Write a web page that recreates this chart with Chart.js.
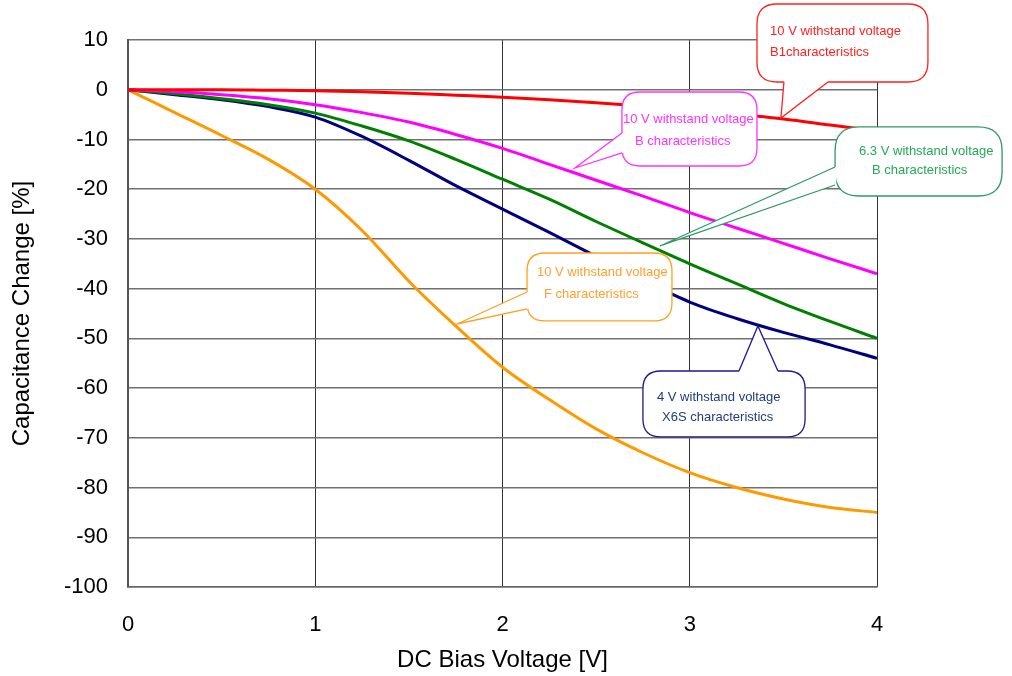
<!DOCTYPE html>
<html>
<head>
<meta charset="utf-8">
<script src="https://cdn.jsdelivr.net/npm/chart.js@4/dist/chart.umd.min.js"></script>
<style>
  html, body { margin: 0; padding: 0; background: #fff; }
  #wrap { width: 1012px; height: 676px; }
</style>
</head>
<body>
<div id="wrap"><canvas id="c" width="1012" height="676"></canvas></div>
<script>
// ---- data (DC bias voltage [V] vs capacitance change [%]) ----
const voltages = [0, 0.25, 0.5, 0.75, 1, 1.25, 1.5, 1.75, 2, 2.25, 2.5, 2.75, 3, 3.25, 3.5, 3.75, 4];
const b1_10V   = [0, 0, 0, -0.1, -0.2, -0.4, -0.7, -1.1, -1.5, -2.0, -2.6, -3.3, -4.0, -4.9, -5.9, -7.1, -8.3];
const b_10V    = [0, -0.4, -1.0, -1.8, -3.0, -4.6, -6.5, -9.0, -11.8, -15.0, -18.2, -21.4, -24.7, -27.8, -30.9, -34.0, -37.0];
const b_6V3    = [0, -0.8, -1.8, -3.0, -4.7, -7.3, -10.3, -14.0, -18.0, -22.0, -26.5, -30.8, -35.0, -39.0, -43.0, -46.6, -50.0];
const x6s_4V   = [0, -1.0, -2.0, -3.4, -5.5, -9.4, -14.2, -19.3, -24.0, -28.7, -33.5, -38.3, -42.7, -46.0, -48.8, -51.3, -54.0];
const f_10V    = [0, -4.6, -9.2, -14.0, -20.0, -28.3, -38.5, -47.5, -55.8, -62.3, -68.2, -73.0, -77.0, -80.0, -82.3, -84.0, -85.0];
const xTicks   = [0, 1, 2, 3, 4];
const yTicks   = [10, 0, -10, -20, -30, -40, -50, -60, -70, -80, -90, -100];

// ---- callout annotations (in data units) ----
const callouts = [
  { color: '#ff2020', text: '#ff2020', r: 20,
    box: [3.359, 4.272, 17.24, 1.55],
    tail: [[3.503, 1.55], [3.487, -5.68], [3.738, 1.55]],
    lines: [['10 V withstand voltage', 3.429, 11.81], ['B1characteristics', 3.429, 7.59]] },
  { color: '#ff33ff', text: '#ff33ff', r: 18,
    box: [2.638, 3.359, -0.456, -15.34],
    tail: [[2.638, -8.70], [2.387, -15.74], [2.638, -12.72]],
    lines: [['10 V withstand voltage', 2.643, -5.89], ['B characteristics', 2.708, -10.31]] },
  { color: '#2e9a62', text: '#22aa55', r: 24,
    box: [3.776, 4.668, -7.49, -21.37],
    tail: [[3.776, -15.54], [2.841, -31.42], [3.776, -19.16]],
    lines: [['6.3 V withstand voltage', 3.904, -12.32], ['B characteristics', 3.973, -16.14]] },
  { color: '#ffa020', text: '#ffa030', r: 18,
    box: [2.131, 2.905, -32.83, -46.50],
    tail: [[2.131, -40.67], [1.757, -47.11], [2.131, -44.09]],
    lines: [['10 V withstand voltage', 2.184, -36.65], ['F characteristics', 2.222, -41.08]] },
  { color: '#1a1a8c', text: '#1f3d7a', r: 18,
    box: [2.750, 3.616, -56.56, -69.83],
    tail: [[3.263, -56.56], [3.364, -47.51], [3.471, -56.56]],
    lines: [['4 V withstand voltage', 2.825, -61.79], ['X6S characteristics', 2.852, -65.81]] }
];

const toXY = (xs, ys) => xs.map((x, i) => ({ x: x, y: ys[i] }));

const calloutPlugin = {
  id: 'callouts',
  afterDatasetsDraw(chart) {
    const ctx = chart.ctx;
    const xs = chart.scales.x, ys = chart.scales.y;
    callouts.forEach(c => {
      const x1 = xs.getPixelForValue(c.box[0]), x2 = xs.getPixelForValue(c.box[1]);
      const y1 = ys.getPixelForValue(c.box[2]), y2 = ys.getPixelForValue(c.box[3]);
      const r = c.r;
      ctx.save();
      ctx.beginPath();
      ctx.moveTo(x1 + r, y1);
      ctx.lineTo(x2 - r, y1);
      ctx.quadraticCurveTo(x2, y1, x2, y1 + r);
      ctx.lineTo(x2, y2 - r);
      ctx.quadraticCurveTo(x2, y2, x2 - r, y2);
      ctx.lineTo(x1 + r, y2);
      ctx.quadraticCurveTo(x1, y2, x1, y2 - r);
      ctx.lineTo(x1, y1 + r);
      ctx.quadraticCurveTo(x1, y1, x1 + r, y1);
      ctx.closePath();
      ctx.fillStyle = '#ffffff';
      ctx.fill();
      ctx.strokeStyle = c.color;
      ctx.lineWidth = 1.3;
      ctx.stroke();
      // tail
      const p = c.tail.map(t => [xs.getPixelForValue(t[0]), ys.getPixelForValue(t[1])]);
      ctx.beginPath();
      ctx.moveTo(p[0][0], p[0][1]);
      ctx.lineTo(p[1][0], p[1][1]);
      ctx.lineTo(p[2][0], p[2][1]);
      ctx.closePath();
      ctx.fill();
      ctx.beginPath();
      ctx.moveTo(p[0][0], p[0][1]);
      ctx.lineTo(p[2][0], p[2][1]);
      ctx.strokeStyle = '#ffffff';
      ctx.lineWidth = 2.5;
      ctx.stroke();
      ctx.beginPath();
      ctx.moveTo(p[0][0], p[0][1]);
      ctx.lineTo(p[1][0], p[1][1]);
      ctx.lineTo(p[2][0], p[2][1]);
      ctx.strokeStyle = c.color;
      ctx.lineWidth = 1.3;
      ctx.stroke();
      // text
      ctx.fillStyle = c.text;
      ctx.font = '13px "Liberation Sans", Arial, sans-serif';
      ctx.textAlign = 'left';
      ctx.textBaseline = 'middle';
      c.lines.forEach(l => {
        ctx.fillText(l[0], xs.getPixelForValue(l[1]), ys.getPixelForValue(l[2]));
      });
      ctx.restore();
    });
  }
};

const tickFont = { family: '"Liberation Sans", Arial, sans-serif', size: 22 };
const titleFont = { family: '"Liberation Sans", Arial, sans-serif', size: 24 };

new Chart(document.getElementById('c'), {
  type: 'line',
  data: {
    datasets: [
      { label: '10 V B1', data: toXY(voltages, b1_10V), borderColor: '#ff0000', order: 1 },
      { label: '10 V B', data: toXY(voltages, b_10V), borderColor: '#ff00ff', order: 2 },
      { label: '6.3 V B', data: toXY(voltages, b_6V3), borderColor: '#008000', order: 3 },
      { label: '4 V X6S', data: toXY(voltages, x6s_4V), borderColor: '#000080', order: 4 },
      { label: '10 V F', data: toXY(voltages, f_10V), borderColor: '#ff9900', order: 5 }
    ]
  },
  options: {
    responsive: false,
    animation: false,
    devicePixelRatio: 1,
    layout: { padding: { top: 40, right: 135, left: 0, bottom: 0 } },
    elements: {
      line: { borderWidth: 3, tension: 0.3, fill: false, cubicInterpolationMode: 'monotone' },
      point: { radius: 0 }
    },
    plugins: { legend: { display: false }, tooltip: { enabled: false } },
    scales: {
      x: {
        type: 'linear', min: 0, max: 4,
        afterBuildTicks: s => { s.ticks = xTicks.map(v => ({ value: v })); },
        afterFit: s => { s.height = 89; },
        ticks: { font: tickFont, color: '#000', padding: 25, maxRotation: 0 },
        grid: { color: '#333', lineWidth: 1, drawTicks: false },
        border: { color: '#666', width: 1.5 },
        title: { display: true, text: 'DC Bias Voltage [V]', font: titleFont, color: '#000', padding: { top: 0, bottom: 1 } }
      },
      y: {
        type: 'linear', min: -100, max: 10,
        afterBuildTicks: s => { s.ticks = yTicks.map(v => ({ value: v })); },
        afterFit: s => { s.width = 128; },
        ticks: { font: tickFont, color: '#000', padding: 20 },
        grid: { color: '#707070', lineWidth: 1.5, drawTicks: false },
        border: { color: '#555', width: 2 },
        title: { display: true, text: 'Capacitance Change [%]', font: titleFont, color: '#000', padding: { top: 8, bottom: 0 } }
      }
    }
  },
  plugins: [calloutPlugin]
});
</script>
</body>
</html>
